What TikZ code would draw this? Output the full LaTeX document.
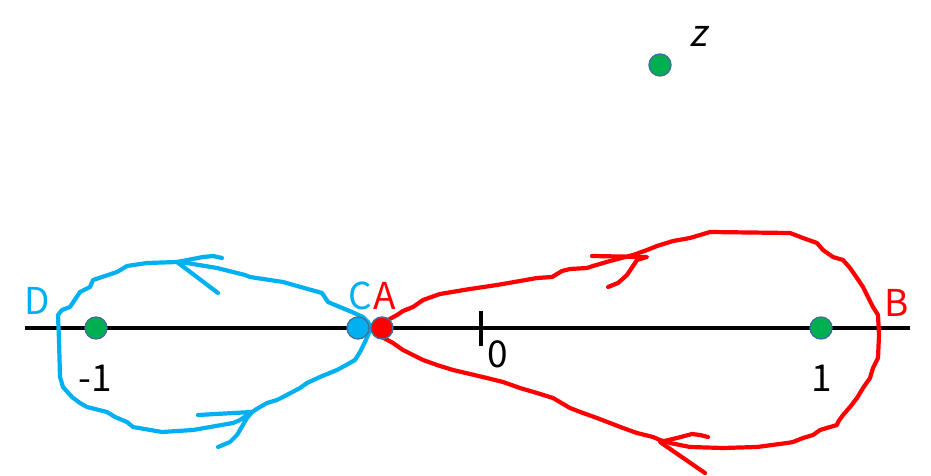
\documentclass[tikz,border=0pt]{standalone}
\usepackage{fontspec}
\setmainfont{Noto Sans CJK JP}
\newfontfamily\zfont{Noto Sans CJK JP}[FakeSlant=0.2]
\definecolor{cyanline}{HTML}{00B0F0}
\definecolor{redline}{HTML}{FF0000}
\definecolor{dotgreen}{HTML}{00B050}
\definecolor{dotborder}{HTML}{41719C}
\begin{document}
\begin{tikzpicture}[x=1pt,y=-1pt,line join=round,line cap=round,
  dot/.style={circle,draw=dotborder,line width=1.4pt,minimum size=22pt,inner sep=0pt},
  lbl/.style={font=\fontsize{37}{42}\selectfont,inner sep=0pt},
  bluepath/.style={draw=cyanline,line width=4.2pt},
  redpath/.style={draw=redline,line width=4.2pt}]
\useasboundingbox (0,0) rectangle (931,476);
% axis
\coordinate (axL) at (25,328);
\coordinate (axR) at (910,328);
\draw[line width=4.8pt,line cap=butt] (axL) -- (axR);
\coordinate (tkA) at (481,311);
\coordinate (tkB) at (481,346);
\draw[line width=4pt,line cap=butt] (tkA) -- (tkB);
% blue loop
\draw[bluepath] (371,328) -- (368,322) -- (363,317) -- (352,312) -- (335,305) -- (328,302) -- (322,293) -- (283,282) -- (250,277) -- (245,275) -- (217,268) -- (187,263) -- (177,262) -- (147,263) -- (127,266) -- (117,272) -- (93,280) -- (90,287) -- (80,292) -- (70,307) -- (62,310) -- (58,315) -- (59,340) -- (60,377) -- (63,387) -- (72,397) -- (80,403) -- (87,407) -- (107,412) -- (115,417) -- (127,422) -- (133,427) -- (162,432) -- (193,430) -- (233,423) -- (240,420) -- (252,412) -- (260,407) -- (267,403) -- (277,400) -- (283,397) -- (300,388) -- (307,383) -- (320,377) -- (337,370) -- (348,364) -- (355,360) -- (360,352) -- (365,342) -- (368,335) -- cycle;
% blue arrows
\draw[bluepath] (222,258) -- (213,256) -- (203,257) -- (177,262) -- (218,293);
\draw[bluepath] (198,415) -- (252,412) -- (247,418) -- (237,435) -- (230,442) -- (218,447);
% red loop
\draw[redpath] (382,328) -- (388,320) -- (397,315) -- (403,311) -- (413,307) -- (423,300) -- (440,294) -- (470,289) -- (497,285) -- (520,281) -- (537,278) -- (552,277) -- (562,271) -- (570,269) -- (587,268) -- (593,266) -- (610,261) -- (633,255) -- (647,250) -- (657,246) -- (673,241) -- (690,238) -- (710,232) -- (790,233) -- (803,238) -- (817,243) -- (823,250) -- (833,257) -- (843,260) -- (850,268) -- (857,278) -- (863,287) -- (868,297) -- (873,307) -- (878,315) -- (879,335) -- (878,358) -- (873,368) -- (870,378) -- (863,388) -- (857,398) -- (850,407) -- (843,415) -- (838,422) -- (837,425) -- (830,427) -- (820,430) -- (813,435) -- (803,438) -- (793,442) -- (787,443) -- (757,447) -- (723,448) -- (690,447) -- (670,443) -- (660,440) -- (653,437) -- (637,433) -- (623,428) -- (610,423) -- (597,418) -- (583,413) -- (570,408) -- (553,398) -- (537,393) -- (520,388) -- (503,382) -- (487,378) -- (470,374) -- (453,370) -- (437,365) -- (423,360) -- (413,355) -- (403,350) -- (393,343) -- (382,337) -- cycle;
% red arrows
\draw[redpath] (592,256) -- (647,257) -- (637,260) -- (627,275) -- (618,283) -- (608,287);
\draw[redpath] (705,473) -- (660,442) -- (677,438) -- (692,434) -- (700,435) -- (708,437);
% dots
\node[dot,fill=dotgreen] (m1) at (96,328) {};
\node[dot,fill=dotgreen] (p1) at (821,328) {};
\node[dot,fill=dotgreen] (zp) at (660,65) {};
\node[dot,fill=cyanline] (C) at (358,328) {};
\node[dot,fill=redline] (A) at (382,328) {};
% labels
\node[lbl,text=cyanline] (lD) at (37,301) {D};
\node[lbl,text=cyanline] (lC) at (360,296) {C};
\node[lbl,text=redline] (lA) at (385,296) {A};
\node[lbl,text=redline] (lB) at (897,303) {B};
\node[lbl] (l0) at (498,354) {0};
\node[lbl] (lm1) at (95,378) {-1};
\node[lbl] (l1) at (822,378) {1};
\node[lbl,font=\fontsize{37}{42}\zfont] (lz) at (698,36) {z};
\end{tikzpicture}
\end{document}
